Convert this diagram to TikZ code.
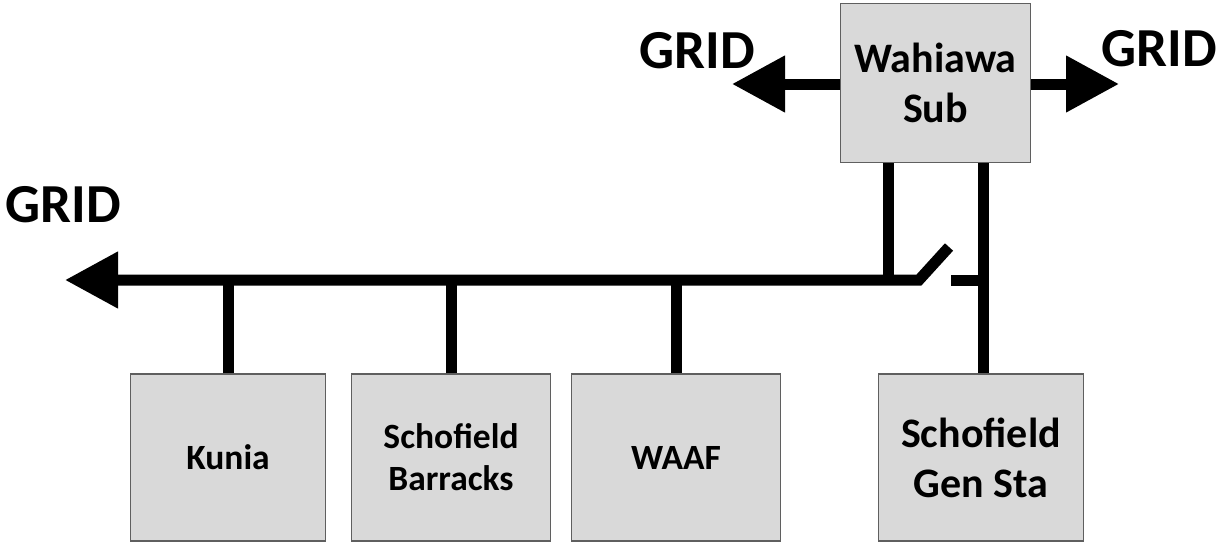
\documentclass[tikz,border=0pt]{standalone}
\usepackage{fontspec}
\setmainfont{Carlito}
\usepackage{xcolor}
\usetikzlibrary{arrows.meta}
\definecolor{boxcolor}{HTML}{D9D9D9}
\definecolor{edgecolor}{HTML}{5F5F5F}
\begin{document}
\begin{tikzpicture}[
    x=1pt, y=-1pt,
    component/.style={rectangle, draw=edgecolor, line width=1.5pt,
                      fill=boxcolor,
                      align=center, inner sep=0pt,
                      font=\bfseries},
    busline/.style={line width=11pt, draw=black},
    gridarrow/.style={busline, -{Triangle[length=53pt,width=54pt]}},
    gridlabel/.style={font=\bfseries\fontsize{55}{60}\selectfont, inner sep=0pt}
]
\useasboundingbox (0,0) rectangle (1220,546);
\node[component, minimum width=190pt, minimum height=159pt, font=\bfseries\fontsize{42}{50}\selectfont] (wahiawa) at (935.5,83) {Wahiawa\\Sub};
\node[component, minimum width=195pt, minimum height=167pt, font=\bfseries\fontsize{35.5}{42}\selectfont] (kunia) at (228,457.5) {Kunia};
\node[component, minimum width=199pt, minimum height=167pt, font=\bfseries\fontsize{35.5}{42}\selectfont] (barracks) at (451,457.5) {Schofield\\Barracks};
\node[component, minimum width=209pt, minimum height=167pt, font=\bfseries\fontsize{35.5}{42}\selectfont] (waaf) at (676,457.5) {WAAF};
\node[component, minimum width=205pt, minimum height=167pt, font=\bfseries\fontsize{42}{50}\selectfont] (gensta) at (981,457.5) {Schofield\\Gen Sta};

\node[gridlabel] (gridleft) at (697,51) {GRID};
\node[gridlabel] (gridright) at (1159,49) {GRID};
\node[gridlabel] (gridbus) at (63,205) {GRID};

\coordinate (arrowleft) at (732,84);
\coordinate (arrowright) at (1119,84);
\coordinate (arrowbus) at (65,280);
\coordinate (busstart) at (888,280);
\coordinate (swhinge) at (919,280);
\coordinate (swtip) at (949,247);
\coordinate (swcontact) at (951,280);
\coordinate (gentap) at (983.5,280);

\draw[gridarrow] (wahiawa.west |- arrowleft) -- (arrowleft);
\draw[gridarrow] (wahiawa.east |- arrowright) -- (arrowright);
\draw[gridarrow] (swtip) -- (swhinge) -- (arrowbus);
\draw[busline] (swcontact) -- (gentap);
\draw[busline] (wahiawa.south -| busstart) -- (busstart);
\draw[busline] (wahiawa.south -| gentap) -- (gensta.north -| gentap);
\draw[busline] (kunia.north) -- (kunia.north |- arrowbus);
\draw[busline] (barracks.north) -- (barracks.north |- arrowbus);
\draw[busline] (waaf.north) -- (waaf.north |- arrowbus);
\end{tikzpicture}
\end{document}
